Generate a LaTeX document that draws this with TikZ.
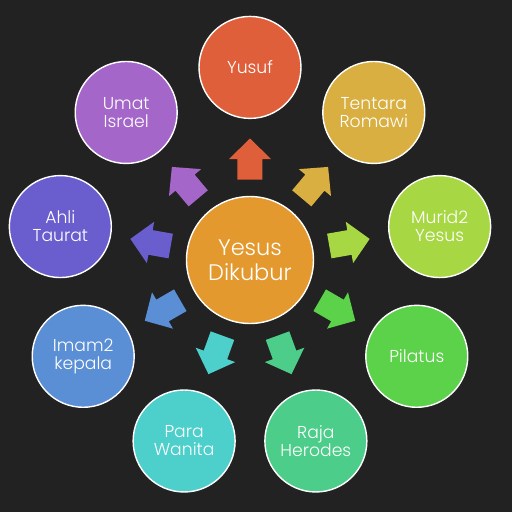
\documentclass[tikz,border=0pt]{standalone}
\usepackage{fontspec}
\setmainfont{Poppins Light}
\definecolor{bgdark}{HTML}{222222}
\definecolor{hubcol}{HTML}{E4992F}
\definecolor{yusufcol}{HTML}{DF5F3B}
\definecolor{tentaracol}{HTML}{D8AF40}
\definecolor{muridcol}{HTML}{A8D744}
\definecolor{pilatuscol}{HTML}{5CD24A}
\definecolor{herodescol}{HTML}{4CCD8A}
\definecolor{wanitacol}{HTML}{4DCFCB}
\definecolor{imamcol}{HTML}{5A8ED5}
\definecolor{ahlicol}{HTML}{6A5ECF}
\definecolor{umatcol}{HTML}{A466C9}
\begin{document}
\begin{tikzpicture}[
    x=0.02cm, y=0.02cm,
    hub/.style={circle, draw=white, line width=0.8pt, fill=hubcol, minimum size=2.54cm, text=white, align=center, font=\fontsize{12.8}{14}\selectfont},
    spoke/.style={circle, draw=white, line width=0.8pt, minimum size=2.04cm, text=white, align=center, font=\fontsize{9.8}{10.2}\selectfont},
    blockarrow/.pic={\path[pic actions] (-20.5,-12.5) -- (0,-12.5) -- (0,-21) -- (20.5,0) -- (0,21) -- (0,12.5) -- (-20.5,12.5) -- cycle;}
]
% Background
\fill[bgdark] (-250,-252) rectangle (262,260);

% Centre
\node[hub] (hub) at (0,0) {Yesus\\Dikubur};

% Circles around
\node[spoke, fill=yusufcol] (yusuf) at (90:192.6) {Yusuf};
\node[spoke, fill=tentaracol] (tentara) at (50:192.6) {Tentara\\Romawi};
\node[spoke, fill=muridcol] (murid) at (10:192.6) {Murid2\\Yesus};
\node[spoke, fill=pilatuscol] (pilatus) at (-30:192.6) {Pilatus};
\node[spoke, fill=herodescol] (herodes) at (-70:192.6) {Raja\\Herodes};
\node[spoke, fill=wanitacol] (wanita) at (-110:192.6) {Para\\Wanita};
\node[spoke, fill=imamcol] (imam) at (-150:192.6) {Imam2\\kepala};
\node[spoke, fill=ahlicol] (ahli) at (170:192.6) {Ahli\\Taurat};
\node[spoke, fill=umatcol] (umat) at (130:192.6) {Umat\\Israel};

% Arrows
\pic[fill=yusufcol, rotate=90] (ayusuf) at (90:101) {blockarrow};
\pic[fill=tentaracol, rotate=50] (atentara) at (50:101) {blockarrow};
\pic[fill=muridcol, rotate=10] (amurid) at (10:101) {blockarrow};
\pic[fill=pilatuscol, rotate=-30] (apilatus) at (-30:101) {blockarrow};
\pic[fill=herodescol, rotate=-70] (aherodes) at (-70:101) {blockarrow};
\pic[fill=wanitacol, rotate=-110] (awanita) at (-110:101) {blockarrow};
\pic[fill=imamcol, rotate=-150] (aimam) at (-150:101) {blockarrow};
\pic[fill=ahlicol, rotate=170] (aahli) at (170:101) {blockarrow};
\pic[fill=umatcol, rotate=130] (aumat) at (130:101) {blockarrow};

\end{tikzpicture}
\end{document}
